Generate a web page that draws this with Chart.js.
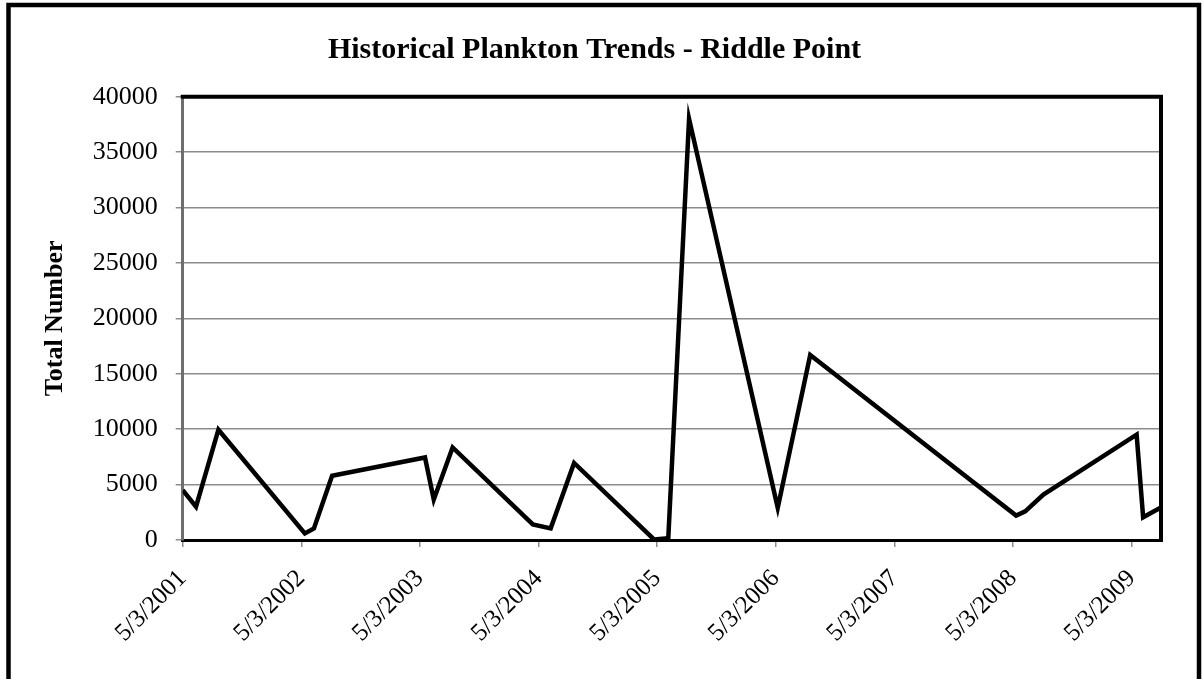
<!DOCTYPE html>
<html>
<head>
<meta charset="utf-8">
<title>Historical Plankton Trends - Riddle Point</title>
<script src="https://cdn.jsdelivr.net/npm/chart.js@4.4.0/dist/chart.umd.min.js"></script>
<style>
  html, body { margin: 0; padding: 0; background: #ffffff; }
  #wrap { width: 1204px; height: 679px; position: relative; }
</style>
</head>
<body>
<div id="wrap"><canvas id="chart" width="1204" height="679"></canvas></div>
<script>
// Sampling dates (ISO) and total plankton counts at Riddle Point
const sampleDates = [
  '2001-05-03', '2001-06-13', '2001-08-21',
  '2002-05-14', '2002-06-11', '2002-08-06',
  '2003-05-19', '2003-06-15', '2003-08-12',
  '2004-04-15', '2004-06-09', '2004-08-20',
  '2005-04-23', '2005-06-06', '2005-08-09',
  '2006-05-09', '2006-08-17',
  '2008-05-12', '2008-06-09', '2008-08-04',
  '2009-05-18', '2009-06-07', '2009-07-29'
];
const totalNumber = [
  4500, 3000, 9950,
  600, 1050, 5800,
  7450, 3650, 8350,
  1400, 1050, 6950,
  50, 150, 38000,
  2900, 16700,
  2200, 2580, 4100,
  9500, 2050, 2900
];
// Yearly axis labels
const tickLabels = [
  '5/3/2001', '5/3/2002', '5/3/2003', '5/3/2004', '5/3/2005',
  '5/3/2006', '5/3/2007', '5/3/2008', '5/3/2009'
];
const axisStart = '2001-05-03';
const axisEnd = '2009-08-01';
const yMax = 40000;
const yStep = 5000;

const isoTime = s => { const [y, m, d] = s.split('-').map(Number); return Date.UTC(y, m - 1, d); };
const mdyTime = s => { const [m, d, y] = s.split('/').map(Number); return Date.UTC(y, m - 1, d); };

const points = sampleDates.map((d, i) => ({ x: isoTime(d), y: totalNumber[i] }));
const tickTimes = tickLabels.map(mdyTime);

const SERIF = "'Liberation Serif', 'Times New Roman', Times, serif";

// White page, outer frame and the heavy top/right edges of the plot area
const framePlugin = {
  id: 'frame',
  beforeDraw(chart) {
    const ctx = chart.ctx;
    ctx.save();
    ctx.fillStyle = '#ffffff';
    ctx.fillRect(0, 0, chart.width, chart.height);
    ctx.restore();
  },
  afterDraw(chart) {
    const ctx = chart.ctx;
    const a = chart.chartArea;
    ctx.save();
    ctx.strokeStyle = '#000000';
    ctx.lineWidth = 4;
    ctx.lineCap = 'square';
    ctx.beginPath();
    ctx.moveTo(a.left, a.top);
    ctx.lineTo(a.right, a.top);
    ctx.lineTo(a.right, a.bottom);
    ctx.stroke();
    ctx.lineWidth = 4.5;
    ctx.strokeRect(8.5, 5, 1190.5, 720);
    ctx.restore();
  }
};

new Chart(document.getElementById('chart'), {
  type: 'line',
  data: {
    datasets: [{
      label: 'Total Number',
      data: points,
      borderColor: '#000000',
      borderWidth: 4.5,
      pointRadius: 0,
      pointHoverRadius: 0,
      tension: 0,
      fill: false
    }]
  },
  options: {
    responsive: false,
    devicePixelRatio: 1,
    animation: false,
    events: [],
    layout: { padding: { left: 28, right: 43, top: 0, bottom: 0 } },
    plugins: {
      legend: { display: false },
      tooltip: { enabled: false },
      title: {
        display: true,
        text: 'Historical Plankton Trends - Riddle Point',
        color: '#000000',
        font: { family: SERIF, size: 30, weight: 'bold', lineHeight: 1.2 },
        padding: { top: 32, bottom: 28.7 }
      }
    },
    scales: {
      x: {
        type: 'linear',
        min: isoTime(axisStart),
        max: isoTime(axisEnd),
        afterBuildTicks: scale => { scale.ticks = tickTimes.map(v => ({ value: v })); },
        afterFit: scale => { scale.height = 139; },
        border: { display: true, color: '#000000', width: 3 },
        grid: { drawOnChartArea: false, drawTicks: true, tickLength: 7, color: '#8c8c8c', lineWidth: 1.5 },
        ticks: {
          autoSkip: false,
          maxRotation: 45,
          minRotation: 45,
          padding: 17,
          color: '#000000',
          font: { family: SERIF, size: 25 },
          callback: (value, index) => tickLabels[index]
        }
      },
      y: {
        min: 0,
        max: yMax,
        afterFit: scale => { scale.width = 154.7; },
        border: { display: true, color: '#6e6e6e', width: 3 },
        grid: { color: '#8c8c8c', lineWidth: 1.5, drawTicks: true, tickLength: 7 },
        ticks: {
          stepSize: yStep,
          padding: 18,
          color: '#000000',
          font: { family: SERIF, size: 26 },
          callback: value => String(value)
        },
        title: {
          display: true,
          text: 'Total Number',
          color: '#000000',
          font: { family: SERIF, size: 26, weight: 'bold', lineHeight: 1.2 },
          padding: { top: 12, bottom: 0 }
        }
      }
    }
  },
  plugins: [framePlugin]
});
</script>
</body>
</html>
